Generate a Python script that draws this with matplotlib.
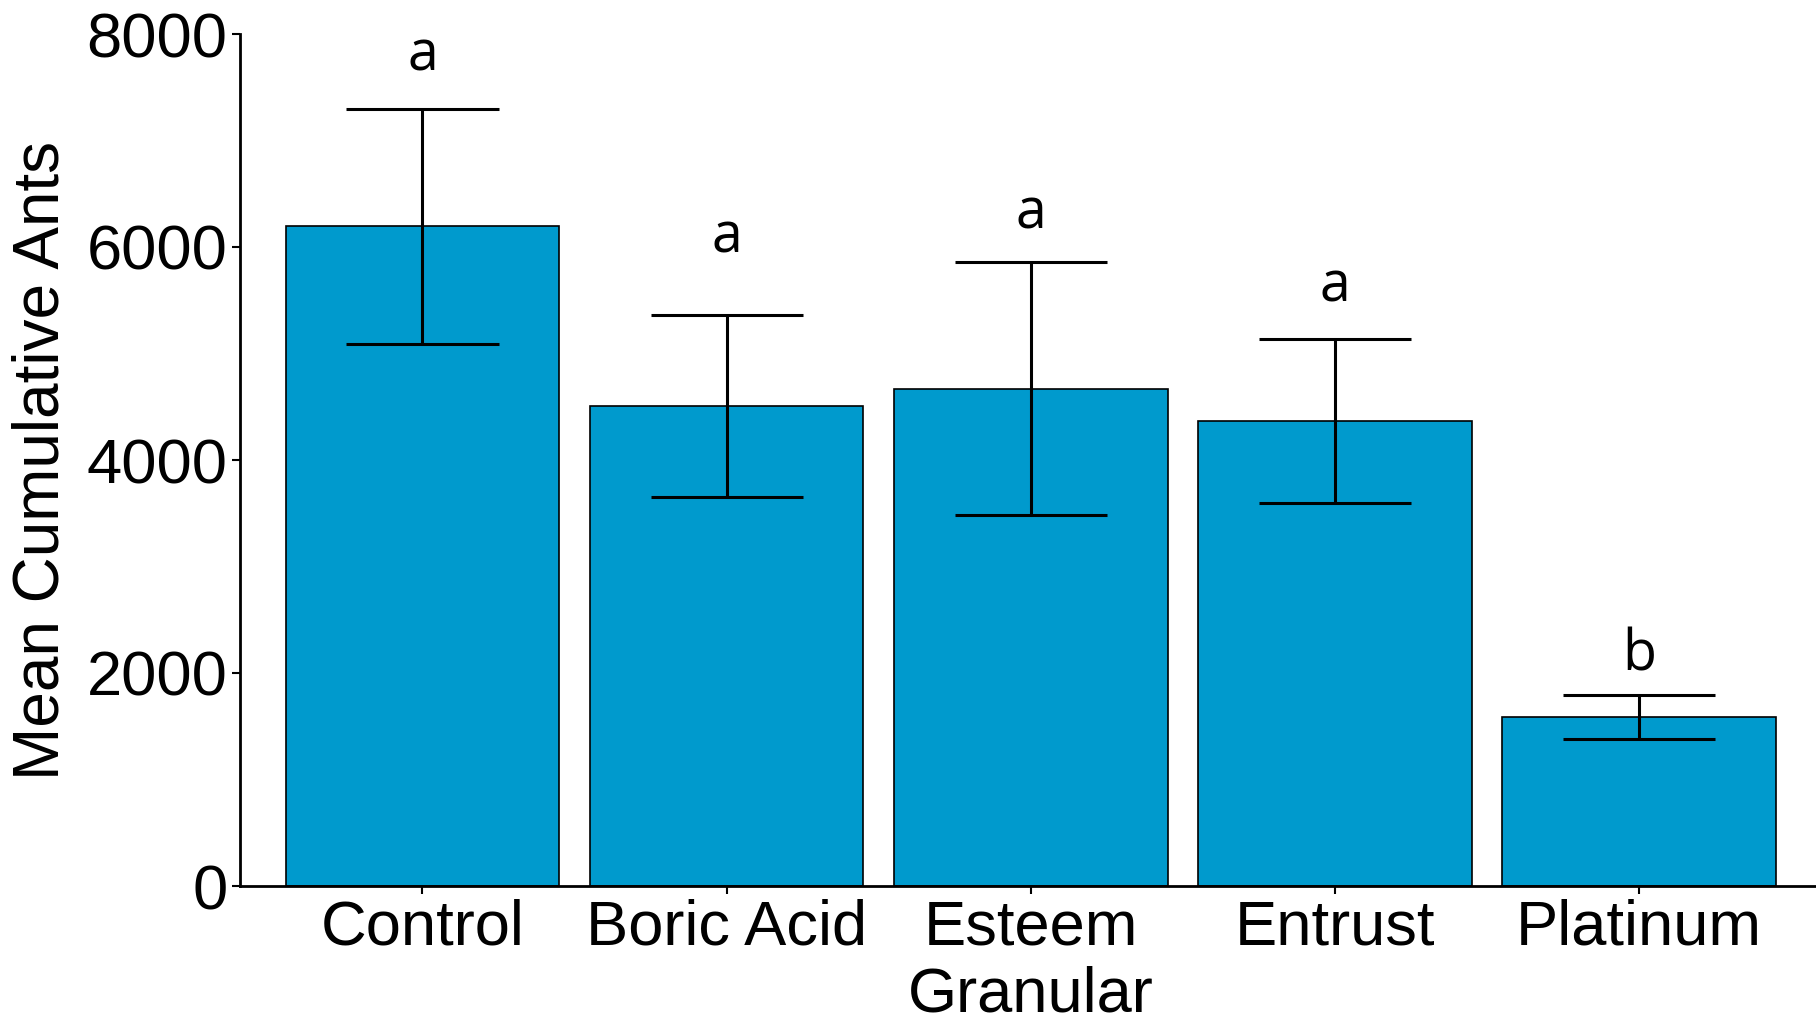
import matplotlib
matplotlib.use("Agg")
import matplotlib.pyplot as plt
import numpy as np

categories = ["Control", "Boric Acid", "Esteem\nGranular", "Entrust", "Platinum"]
means = [6195, 4505, 4670, 4365, 1585]
errors = [1105, 855, 1190, 767, 207]
letters = ["a", "a", "a", "a", "b"]
letter_y = [7790, 6080, 6310, 5620, 2160]
yticks = [0, 2000, 4000, 6000, 8000]

bar_color = "#009ACD"

fig = plt.figure(figsize=(18.16, 10.23), dpi=100)
ax = fig.add_axes([240/1816, 1-886/1023, 1-240/1816 + 0.003, (886-34)/1023])

x = np.arange(len(categories))
ax.bar(x, means, width=0.9, color=bar_color, edgecolor="black", linewidth=1.2, zorder=2)
means_a = np.array(means)
err_a = np.array(errors)
ax.vlines(x, means_a - err_a, means_a + err_a, color="black", linewidth=2.2, zorder=3)
ax.hlines(means_a + err_a, x - 0.25, x + 0.25, color="black", linewidth=2.2, zorder=3)
ax.hlines(means_a - err_a, x - 0.25, x + 0.25, color="black", linewidth=2.2, zorder=3)

for xi, l, ly in zip(x, letters, letter_y):
    ax.text(xi, ly, l, ha="center", va="center", fontsize=40, family="Open Sans")

ax.set_xlim(-0.6, 4.6)
ax.set_ylim(0, 8000)
ax.set_yticks(yticks)
ax.set_yticklabels([str(v) for v in yticks])
ax.set_xticks(x)
ax.set_xticklabels(categories, linespacing=1.17)

for s in ["top", "right"]:
    ax.spines[s].set_visible(False)
for s in ["left", "bottom"]:
    ax.spines[s].set_linewidth(2.0)

ax.tick_params(axis="both", labelsize=45.5, length=6, width=1.5, pad=3, colors="black")
for lbl in ax.get_xticklabels() + ax.get_yticklabels():
    lbl.set_family("Liberation Sans")

ax.set_ylabel("Mean Cumulative Ants", fontsize=46, family="Liberation Sans")
ax.yaxis.set_label_coords(-(240-72) / (1816-240), 0.5)

fig.savefig("out.png", dpi=100)
